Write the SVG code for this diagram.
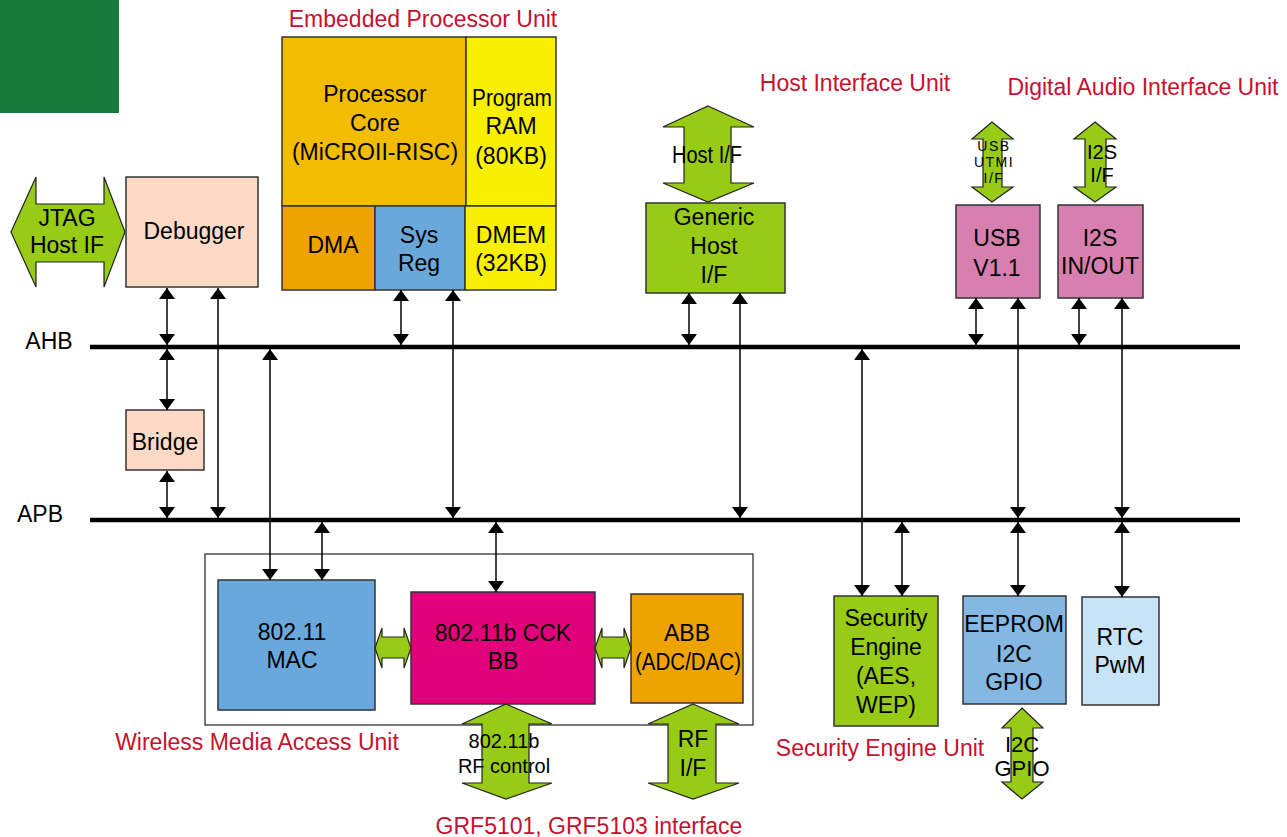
<svg xmlns="http://www.w3.org/2000/svg" width="1287" height="837" viewBox="0 0 1287 837">
<style>
text{font-family:"Liberation Sans",Arial,sans-serif;fill:#000;text-anchor:middle}
.t{font-size:23px}
.s{font-size:20px}
.u{font-size:23px;fill:#C8102E}
.b{stroke:#333;stroke-width:1.5}
.g{fill:#97CB15;stroke:#222;stroke-width:1.2}
.c{stroke:#000;stroke-width:1.5;fill:none;marker-start:url(#ah);marker-end:url(#ah)}
.bus{stroke:#000;stroke-width:4.5}
</style>
<defs>
<marker id="ah" viewBox="0 0 11 16" refX="11" refY="8" markerWidth="11" markerHeight="16" orient="auto-start-reverse" markerUnits="userSpaceOnUse"><path d="M0,0 L11,8 L0,16 z" fill="#000"/></marker>
</defs>
<rect x="0" y="0" width="119" height="113" fill="#177A3B"/>

<g id="unit-labels">
<text class="u" x="423" y="27">Embedded Processor Unit</text>
<text class="u" x="855" y="91">Host Interface Unit</text>
<text class="u" x="1143" y="95">Digital Audio Interface Unit</text>
<text class="u" x="257" y="750">Wireless Media Access Unit</text>
<text class="u" x="880" y="756">Security Engine Unit</text>
<text class="u" x="589" y="834">GRF5101, GRF5103 interface</text>
</g>

<g id="buses">
<line class="bus" x1="90" y1="347" x2="1240" y2="347"/>
<line class="bus" x1="90" y1="520" x2="1240" y2="520"/>
<text class="t" x="49" y="349">AHB</text>
<text class="t" x="40" y="522">APB</text>
</g>

<g id="jtag">
<polygon class="g" points="11,232 36,177 36,204 104,204 104,177 125,232 104,287 104,262 36,262 36,287"/>
<text class="t" x="67" y="226">JTAG</text>
<text class="t" x="67" y="253">Host IF</text>
</g>
<g id="debugger">
<rect class="b" x="126" y="177" width="132" height="110" fill="#FCDAC5"/>
<text class="t" x="194" y="239">Debugger</text>
</g>
<g id="bridge">
<rect class="b" x="126" y="410" width="78" height="60" fill="#FCDAC5"/>
<text class="t" x="165" y="450">Bridge</text>
</g>

<g id="processor-core">
<rect class="b" x="282" y="37" width="184" height="169" fill="#F2BC00"/>
<text class="t" x="375" y="102">Processor</text>
<text class="t" x="375" y="131">Core</text>
<text class="t" x="375" y="160">(MiCROII-RISC)</text>
</g>
<g id="program-ram">
<rect class="b" x="466" y="37" width="90" height="169" fill="#F8F000"/>
<text class="t" x="512" y="106" textLength="80" lengthAdjust="spacingAndGlyphs">Program</text>
<text class="t" x="511" y="134">RAM</text>
<text class="t" x="511" y="164">(80KB)</text>
</g>
<g id="dma">
<rect class="b" x="282" y="206" width="93" height="84" fill="#EEA300"/>
<text class="t" x="333" y="253">DMA</text>
</g>
<g id="sysreg">
<rect class="b" x="375" y="206" width="90" height="84" fill="#6AA8DA"/>
<text class="t" x="419" y="243">Sys</text>
<text class="t" x="419" y="271">Reg</text>
</g>
<g id="dmem">
<rect class="b" x="465" y="206" width="91" height="84" fill="#F8F000"/>
<text class="t" x="511" y="243">DMEM</text>
<text class="t" x="511" y="271">(32KB)</text>
</g>

<g id="host-if-arrow">
<polygon class="g" points="708,106 754,127 731,127 731,183 754,183 708,202 663,183 684,183 684,127 663,127"/>
<text class="t" x="707" y="163" textLength="70" lengthAdjust="spacingAndGlyphs">Host I/F</text>
</g>
<g id="generic-host">
<rect class="b" x="646" y="203" width="139" height="90" fill="#97CB15"/>
<text class="t" x="714" y="225">Generic</text>
<text class="t" x="714" y="254">Host</text>
<text class="t" x="714" y="283">I/F</text>
</g>

<g id="usb-arrow">
<polygon class="g" points="992,122 1013,139 1002,139 1002,187 1013,187 992,202 972,187 983,187 983,139 972,139"/>
<text x="994" y="151" style="font-size:14px;letter-spacing:1.5px;fill:#000">USB</text>
<text x="994" y="167" style="font-size:14px;letter-spacing:1.5px;fill:#000">UTMI</text>
<text x="994" y="183" style="font-size:14px;letter-spacing:1.5px;fill:#000">I/F</text>
</g>
<g id="usb">
<rect class="b" x="956" y="205" width="84" height="93" fill="#D77FAE"/>
<text class="t" x="997" y="246">USB</text>
<text class="t" x="997" y="276">V1.1</text>
</g>
<g id="i2s-arrow">
<polygon class="g" points="1095,122 1116,139 1106,139 1106,187 1116,187 1095,202 1074,187 1085,187 1085,139 1074,139"/>
<text class="s" x="1102" y="159">I2S</text>
<text class="s" x="1102" y="182">I/F</text>
</g>
<g id="i2s">
<rect class="b" x="1058" y="205" width="85" height="93" fill="#D77FAE"/>
<text class="t" x="1100" y="246">I2S</text>
<text class="t" x="1100" y="274">IN/OUT</text>
</g>

<g id="wireless-unit">
<rect x="205" y="554" width="548" height="171" fill="none" stroke="#222" stroke-width="1.2"/>
</g>
<g id="mac">
<rect class="b" x="218" y="580" width="157" height="130" fill="#69A8DC"/>
<text class="t" x="292" y="640">802.11</text>
<text class="t" x="292" y="668">MAC</text>
</g>
<g id="cck">
<rect class="b" x="411" y="592" width="184" height="112" fill="#E2007A"/>
<text class="t" x="503" y="641">802.11b CCK</text>
<text class="t" x="503" y="669">BB</text>
</g>
<g id="abb">
<rect class="b" x="631" y="594" width="112" height="109" fill="#EFA300"/>
<text class="t" x="687" y="641">ABB</text>
<text class="t" x="688" y="670" textLength="106" lengthAdjust="spacingAndGlyphs">(ADC/DAC)</text>
</g>
<g id="mac-cck-arrow">
<polygon class="g" points="375,648 382,628 382,637 404,637 404,628 411,648 404,668 404,658 382,658 382,668"/>
</g>
<g id="cck-abb-arrow">
<polygon class="g" points="595,648 602,628 602,637 624,637 624,628 631,648 624,668 624,658 602,658 602,668"/>
</g>
<g id="rf-control-arrow">
<polygon class="g" points="506,704 552,724 529,724 529,783 552,783 506,799 462,783 482,783 482,724 462,724"/>
<text class="s" x="504" y="748">802.11b</text>
<text class="s" x="504" y="773">RF control</text>
</g>
<g id="rf-if-arrow">
<polygon class="g" points="693,704 739,724 716,724 716,783 739,783 693,799 648,783 668,783 668,724 648,724"/>
<text class="t" x="693" y="747">RF</text>
<text class="t" x="693" y="776">I/F</text>
</g>

<g id="security">
<rect class="b" x="834" y="596" width="104" height="130" fill="#97CB15"/>
<text class="t" x="886" y="626">Security</text>
<text class="t" x="886" y="655">Engine</text>
<text class="t" x="886" y="684">(AES,</text>
<text class="t" x="886" y="713">WEP)</text>
</g>
<g id="eeprom">
<rect class="b" x="963" y="596" width="103" height="108" fill="#85B7E3"/>
<text class="t" x="1014" y="632">EEPROM</text>
<text class="t" x="1014" y="662">I2C</text>
<text class="t" x="1014" y="690">GPIO</text>
</g>
<g id="rtc">
<rect class="b" x="1082" y="597" width="77" height="108" fill="#C6E3F8"/>
<text class="t" x="1120" y="645">RTC</text>
<text class="t" x="1120" y="673">PwM</text>
</g>
<g id="i2c-arrow">
<polygon class="g" points="1022,708 1043,728 1033,728 1033,782 1043,782 1022,799 1002,782 1011,782 1011,728 1002,728"/>
<text x="1022" y="752" style="font-size:22px">I2C</text>
<text x="1022" y="776" style="font-size:22px">GPIO</text>
</g>

<g id="connectors">
<line class="c" x1="167" y1="288" x2="167" y2="345"/>
<line class="c" x1="167" y1="349" x2="167" y2="410"/>
<line class="c" x1="167" y1="471" x2="167" y2="518"/>
<line class="c" x1="218" y1="288" x2="218" y2="518"/>
<line class="c" x1="270" y1="349" x2="270" y2="580"/>
<line class="c" x1="322" y1="522" x2="322" y2="580"/>
<line class="c" x1="401" y1="290" x2="401" y2="345"/>
<line class="c" x1="453" y1="290" x2="453" y2="518"/>
<line class="c" x1="496" y1="522" x2="496" y2="592"/>
<line class="c" x1="689" y1="293" x2="689" y2="345"/>
<line class="c" x1="740" y1="293" x2="740" y2="518"/>
<line class="c" x1="862" y1="349" x2="862" y2="596"/>
<line class="c" x1="902" y1="522" x2="902" y2="596"/>
<line class="c" x1="976" y1="298" x2="976" y2="345"/>
<line class="c" x1="1018" y1="298" x2="1018" y2="518"/>
<line class="c" x1="1018" y1="522" x2="1018" y2="596"/>
<line class="c" x1="1079" y1="298" x2="1079" y2="345"/>
<line class="c" x1="1122" y1="298" x2="1122" y2="518"/>
<line class="c" x1="1122" y1="522" x2="1122" y2="597"/>
</g>
</svg>
